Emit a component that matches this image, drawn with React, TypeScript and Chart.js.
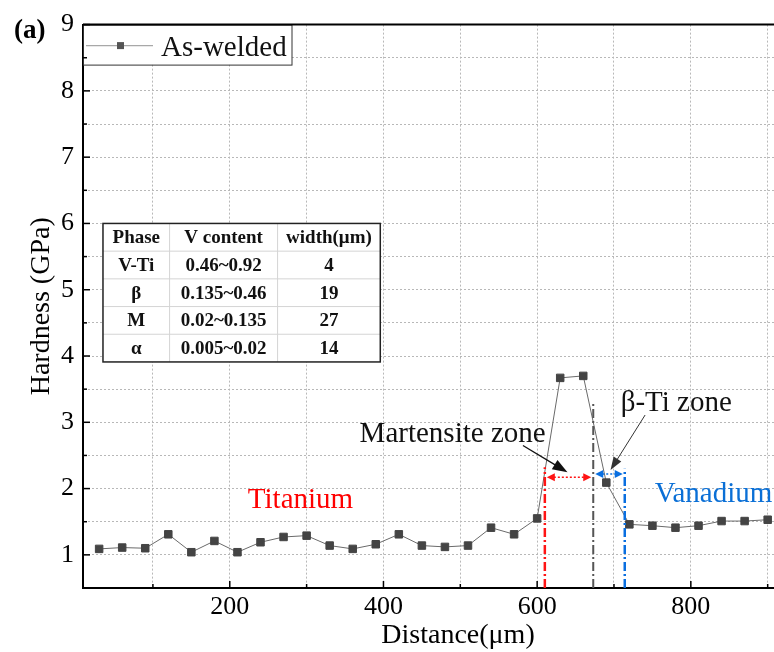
import { useEffect, useRef } from "react";
import { Chart, registerables } from "chart.js";

Chart.register(...registerables);

// ---- data ----
const distances = [30, 60, 90, 120, 150, 180, 210, 240, 270, 300, 330, 360, 390, 420, 450, 480, 510, 540, 570, 600, 630, 660, 690, 720, 750, 780, 810, 840, 870, 900];
const hardness = [1.09, 1.11, 1.1, 1.31, 1.04, 1.21, 1.04, 1.19, 1.27, 1.29, 1.14, 1.09, 1.16, 1.31, 1.14, 1.12, 1.14, 1.41, 1.31, 1.55, 3.67, 3.7, 2.09, 1.46, 1.44, 1.41, 1.44, 1.51, 1.51, 1.53];
const seriesLabel = "As-welded";

const xTickValues = [100, 200, 300, 400, 500, 600, 700, 800, 900];
const xLabelValues = [200, 400, 600, 800];
const yTickValues = [1, 1.5, 2, 2.5, 3, 3.5, 4, 4.5, 5, 5.5, 6, 6.5, 7, 7.5, 8, 8.5, 9];
const yLabelValues = [1, 2, 3, 4, 5, 6, 7, 8, 9];

const tableHeader = ["Phase", "V content", "width(μm)"];
const tablePhases = ["V-Ti", "β", "M", "α"];
const tableVContent = ["0.46~0.92", "0.135~0.46", "0.02~0.135", "0.005~0.02"];
const tableWidths = ["4", "19", "27", "14"];

// zone boundaries (μm) and the hardness at which each dash-dot line stops
const zoneBoundaries = [610, 673, 714];
const boundaryTops = [2.32, 3.28, 2.3];
const boundaryColors = ["#ff1414", "#555555", "#0a6fe0"];

const SERIF = "'Liberation Serif', 'Times New Roman', serif";

function arrowHead(ctx: CanvasRenderingContext2D, tx: number, ty: number, angle: number, len: number, half: number, color: string) {
  ctx.save();
  ctx.translate(tx, ty);
  ctx.rotate(angle);
  ctx.fillStyle = color;
  ctx.beginPath();
  ctx.moveTo(0, 0);
  ctx.lineTo(-len, -half);
  ctx.lineTo(-len, half);
  ctx.closePath();
  ctx.fill();
  ctx.restore();
}

function pointerArrow(ctx: CanvasRenderingContext2D, x1: number, y1: number, x2: number, y2: number, color: string, width: number, len: number, half: number) {
  const ang = Math.atan2(y2 - y1, x2 - x1);
  ctx.save();
  ctx.strokeStyle = color;
  ctx.lineWidth = width;
  ctx.setLineDash([]);
  ctx.beginPath();
  ctx.moveTo(x1, y1);
  ctx.lineTo(x2 - Math.cos(ang) * (len - 2), y2 - Math.sin(ang) * (len - 2));
  ctx.stroke();
  ctx.restore();
  arrowHead(ctx, x2, y2, ang, len, half, color);
}

function doubleArrow(ctx: CanvasRenderingContext2D, xa: number, xb: number, yy: number, color: string) {
  const len = 8;
  ctx.save();
  ctx.strokeStyle = color;
  ctx.lineWidth = 1.5;
  ctx.setLineDash([2, 2]);
  ctx.beginPath();
  ctx.moveTo(xa + len, yy);
  ctx.lineTo(xb - len, yy);
  ctx.stroke();
  ctx.restore();
  arrowHead(ctx, xa + 1, yy, Math.PI, len, 4, color);
  arrowHead(ctx, xb - 1, yy, 0, len, 4, color);
}

const overlayPlugin = {
  id: "overlay",
  afterDatasetsDraw(chart: any) {
    const { ctx, chartArea, scales } = chart;
    const xs = scales.x;
    const ys = scales.y;
    const px = (v: number) => xs.getPixelForValue(v);
    const py = (v: number) => ys.getPixelForValue(v);

    // zone boundary dash-dot lines
    zoneBoundaries.forEach((b, i) => {
      ctx.save();
      ctx.strokeStyle = boundaryColors[i];
      ctx.lineWidth = i === 1 ? 2 : 2.5;
      ctx.setLineDash([9, 3, 2, 3]);
      ctx.beginPath();
      ctx.moveTo(px(b), chartArea.bottom);
      ctx.lineTo(px(b), py(boundaryTops[i]));
      ctx.stroke();
      ctx.restore();
    });

    // zone width arrows
    doubleArrow(ctx, px(zoneBoundaries[0]) + 1, px(zoneBoundaries[1]) - 1, py(2.17), "#ff1414");
    doubleArrow(ctx, px(zoneBoundaries[1]) + 1, px(zoneBoundaries[2]) - 1, py(2.22), "#0a6fe0");

    // text annotations
    ctx.save();
    ctx.textBaseline = "alphabetic";
    ctx.font = `29px ${SERIF}`;
    ctx.fillStyle = "#ff0000";
    ctx.textAlign = "center";
    ctx.fillText("Titanium", px(292), py(1.7));
    ctx.fillStyle = "#0a6fd6";
    ctx.textAlign = "left";
    ctx.fillText("Vanadium", px(753), py(1.8));
    ctx.fillStyle = "#111111";
    ctx.textAlign = "center";
    ctx.fillText("Martensite zone", px(490), py(2.7));
    ctx.fillText("β-Ti zone", px(781), py(3.17));
    ctx.restore();

    pointerArrow(ctx, px(581.5), py(2.65), px(639.5), py(2.245), "#111111", 1.3, 15, 5.5);
    pointerArrow(ctx, px(740.5), py(3.11), px(695.5), py(2.28), "#333333", 1, 13, 4.5);

    // phase table
    const colW = [66.6, 108, 102.7];
    const rowH = 27.7;
    const tx = px(35);
    const ty = py(6.0);
    const totalW = colW.reduce((a, b) => a + b, 0);
    const rows = [tableHeader].concat(tablePhases.map((p, i) => [p, tableVContent[i], tableWidths[i]]));
    const totalH = rowH * rows.length;
    ctx.save();
    ctx.fillStyle = "#ffffff";
    ctx.fillRect(tx, ty, totalW, totalH);
    ctx.strokeStyle = "#d4d4d4";
    ctx.lineWidth = 1;
    ctx.setLineDash([]);
    for (let r = 1; r < rows.length; r++) {
      ctx.beginPath();
      ctx.moveTo(tx, ty + r * rowH);
      ctx.lineTo(tx + totalW, ty + r * rowH);
      ctx.stroke();
    }
    let cx = tx;
    for (let c = 0; c < colW.length - 1; c++) {
      cx += colW[c];
      ctx.beginPath();
      ctx.moveTo(cx, ty);
      ctx.lineTo(cx, ty + totalH);
      ctx.stroke();
    }
    ctx.strokeStyle = "#222222";
    ctx.lineWidth = 1.5;
    ctx.strokeRect(tx, ty, totalW, totalH);
    ctx.fillStyle = "#111111";
    ctx.font = `bold 19px ${SERIF}`;
    ctx.textAlign = "center";
    ctx.textBaseline = "middle";
    rows.forEach((row, r) => {
      let left = tx;
      row.forEach((cell, c) => {
        ctx.fillText(cell, left + colW[c] / 2, ty + r * rowH + rowH / 2 + 1);
        left += colW[c];
      });
    });
    ctx.restore();

    // legend box
    const lx = chartArea.left;
    const lt = chartArea.top;
    ctx.save();
    ctx.fillStyle = "#ffffff";
    ctx.fillRect(lx, lt, 209, 40);
    ctx.strokeStyle = "#333333";
    ctx.lineWidth = 1;
    ctx.strokeRect(lx + 0.5, lt + 0.5, 208.5, 40);
    ctx.strokeStyle = "#a8a8a8";
    ctx.lineWidth = 1.2;
    ctx.beginPath();
    ctx.moveTo(lx + 3, lt + 21);
    ctx.lineTo(lx + 70, lt + 21);
    ctx.stroke();
    ctx.fillStyle = "#555555";
    ctx.fillRect(lx + 34, lt + 17.5, 7, 7);
    ctx.fillStyle = "#111111";
    ctx.font = `29px ${SERIF}`;
    ctx.textAlign = "left";
    ctx.textBaseline = "alphabetic";
    ctx.fillText(chart.data.datasets[0].label, lx + 78, lt + 31);
    ctx.restore();
  },
  afterDraw(chart: any) {
    const { ctx, chartArea, scales } = chart;
    const xs = scales.x;
    const ys = scales.y;
    ctx.save();
    ctx.strokeStyle = "#000000";
    ctx.lineWidth = 1.5;
    ctx.setLineDash([]);
    xTickValues.forEach((v) => {
      const x = xs.getPixelForValue(v);
      const len = xLabelValues.includes(v) ? 7 : 4;
      ctx.beginPath();
      ctx.moveTo(x, chartArea.bottom);
      ctx.lineTo(x, chartArea.bottom - len);
      ctx.stroke();
    });
    yTickValues.forEach((v) => {
      const y = ys.getPixelForValue(v);
      const len = yLabelValues.includes(v) ? 7 : 4;
      ctx.beginPath();
      ctx.moveTo(chartArea.left, y);
      ctx.lineTo(chartArea.left + len, y);
      ctx.stroke();
    });
    // top frame line
    ctx.lineWidth = 2;
    ctx.beginPath();
    ctx.moveTo(chartArea.left, chartArea.top);
    ctx.lineTo(chartArea.right, chartArea.top);
    ctx.stroke();
    // panel label
    ctx.fillStyle = "#000000";
    ctx.font = `bold 27px ${SERIF}`;
    ctx.textAlign = "left";
    ctx.textBaseline = "alphabetic";
    ctx.fillText("(a)", 14, 38);
    ctx.restore();
  },
};

export default function App() {
  const canvasRef = useRef<HTMLCanvasElement | null>(null);

  useEffect(() => {
    const canvas = canvasRef.current;
    if (!canvas) return;
    const chart = new Chart(canvas, {
      type: "line",
      data: {
        datasets: [
          {
            label: seriesLabel,
            data: distances.map((d, i) => ({ x: d, y: hardness[i] })),
            borderColor: "#6a6a6a",
            borderWidth: 1,
            pointStyle: "rect",
            pointRadius: 5.3,
            pointBackgroundColor: "#444444",
            pointBorderColor: "#444444",
            pointBorderWidth: 1,
            tension: 0,
          },
        ],
      },
      options: {
        animation: false,
        responsive: false,
        devicePixelRatio: 1,
        layout: { padding: { left: 0, right: 17, top: 22, bottom: 0 } },
        plugins: {
          legend: { display: false },
          tooltip: { enabled: false },
        },
        scales: {
          x: {
            type: "linear",
            min: 9,
            max: 985,
            afterBuildTicks: (scale: any) => {
              scale.ticks = xTickValues.map((v) => ({ value: v }));
            },
            afterFit: (scale: any) => {
              scale.height = 64;
            },
            ticks: {
              autoSkip: false,
              maxRotation: 0,
              padding: 4,
              color: "#000000",
              font: { family: SERIF, size: 26 },
              callback: (v: any) => (xLabelValues.includes(Number(v)) ? String(v) : ""),
            },
            grid: { color: "#b8b8b8", lineWidth: 1, drawTicks: false },
            border: { display: true, color: "#000000", width: 2, dash: [2, 2] },
            title: {
              display: true,
              text: "Distance(μm)",
              color: "#000000",
              font: { family: SERIF, size: 28 },
              padding: { top: 0, bottom: 0 },
            },
          },
          y: {
            type: "linear",
            min: 0.5,
            max: 9,
            afterBuildTicks: (scale: any) => {
              scale.ticks = yTickValues.map((v) => ({ value: v }));
            },
            afterFit: (scale: any) => {
              scale.width = 83;
            },
            ticks: {
              autoSkip: false,
              padding: 9,
              color: "#000000",
              font: { family: SERIF, size: 26 },
              callback: (v: any) => (yLabelValues.includes(Number(v)) ? String(v) : ""),
            },
            grid: { color: "#b8b8b8", lineWidth: 1, drawTicks: false },
            border: { display: true, color: "#000000", width: 2, dash: [2, 2] },
            title: {
              display: true,
              text: "Hardness (GPa)",
              color: "#000000",
              font: { family: SERIF, size: 28 },
              padding: { top: 25, bottom: 0 },
            },
          },
        },
      },
      plugins: [overlayPlugin],
    });
    return () => chart.destroy();
  }, []);

  return (
    <div style={{ position: "fixed", left: 0, top: 0, width: 774, height: 652, overflow: "hidden", background: "#ffffff" }}>
      <canvas ref={canvasRef} width={850} height={652} style={{ width: 850, height: 652, display: "block" }} />
    </div>
  );
}
